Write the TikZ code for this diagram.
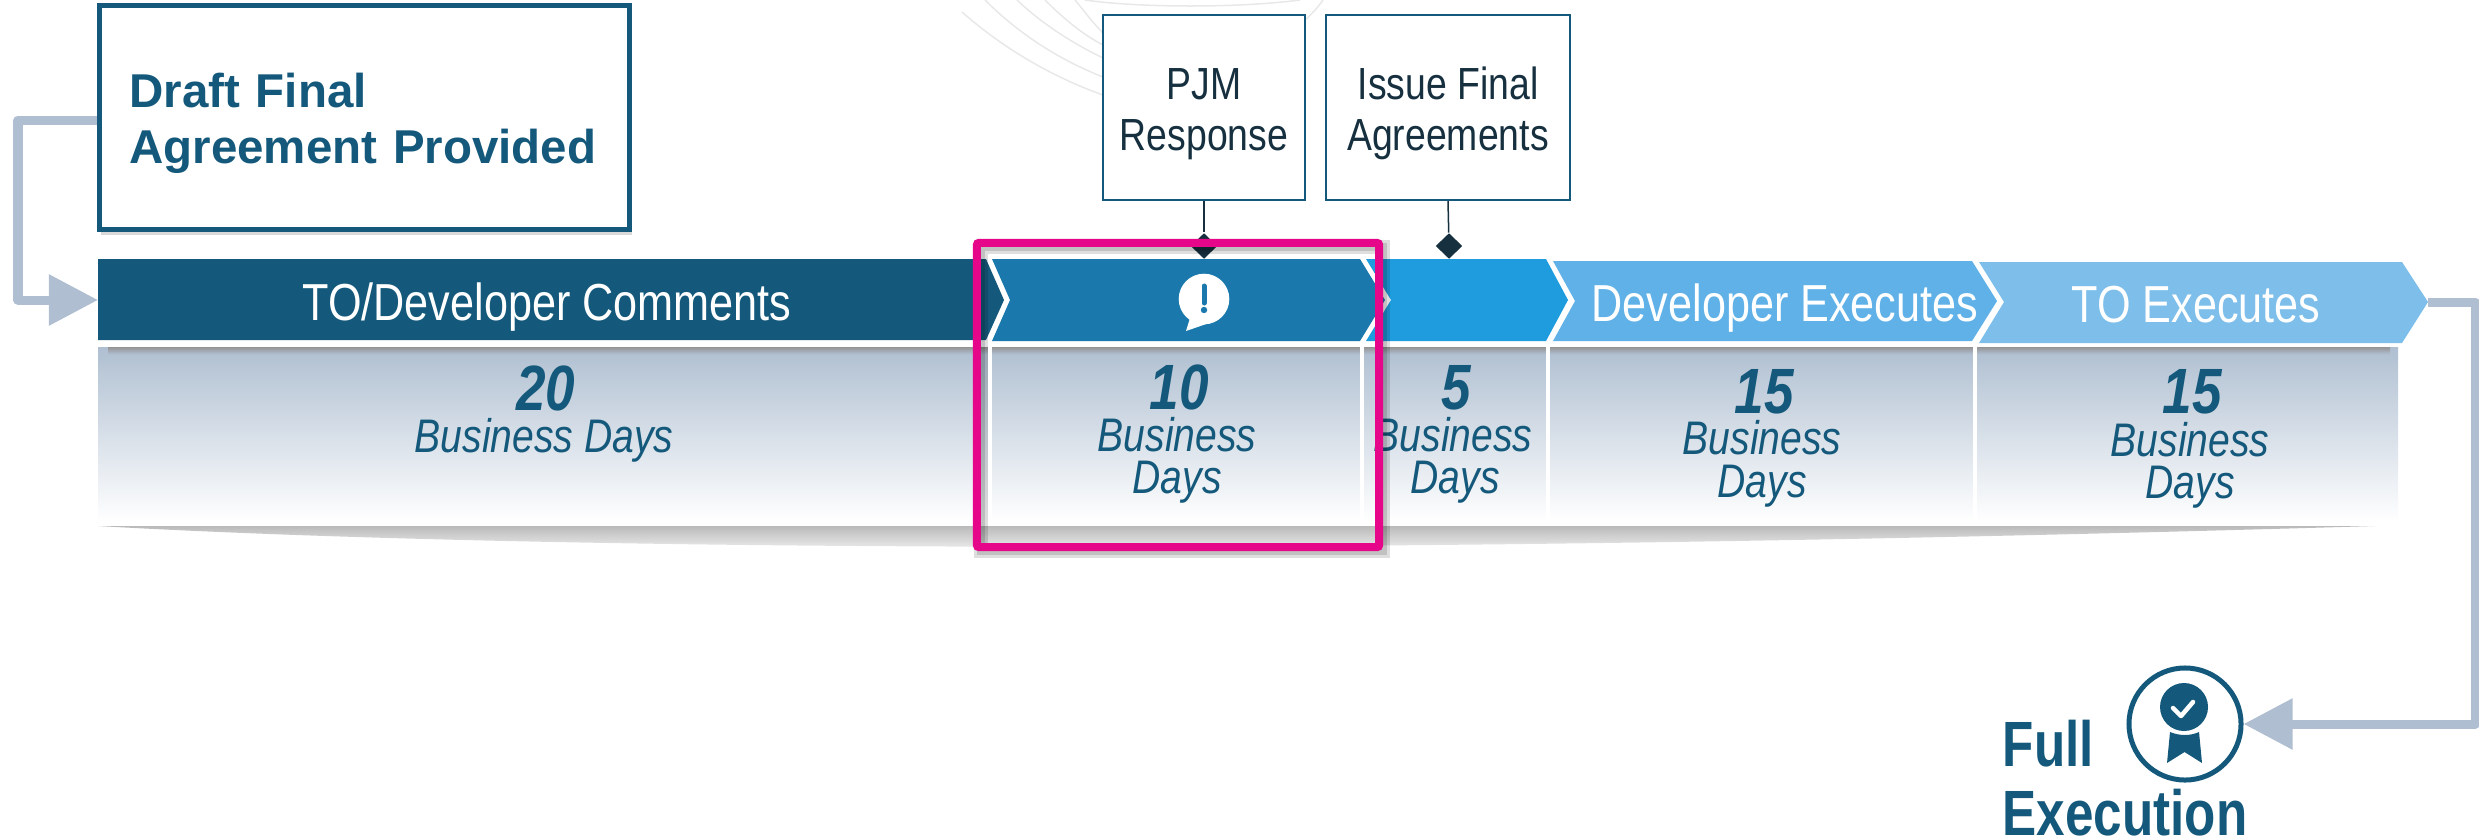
\documentclass[tikz,border=0pt]{standalone}
\usepackage{fontspec}
\setmainfont{Liberation Sans}
\newfontfamily\narrowfont{Liberation Sans}[FakeStretch=0.83]
\newfontfamily\tightbold{Liberation Sans}[FakeStretch=0.8]
\usetikzlibrary{arrows.meta,shadows,shapes.geometric}
\definecolor{darkteal}{HTML}{14597B}
\definecolor{midblue}{HTML}{1A78AC}
\definecolor{brightblue}{HTML}{1E9CDD}
\definecolor{skyblue}{HTML}{5FB1E8}
\definecolor{paleblue}{HTML}{7DBEEA}
\definecolor{flowgrey}{HTML}{AFBFD1}
\definecolor{inkdark}{HTML}{16303F}
\definecolor{hotpink}{HTML}{E6068A}
\tikzset{
  flow/.style={draw=flowgrey,line width=.09cm,line join=round,-{Triangle[length=.49cm,width=.49cm]}},
  draftbox/.style={draw=darkteal,fill=white,line width=.05cm,minimum width=5.3cm,minimum height=2.23cm,inner sep=.3cm,text width=4.7cm,align=left,text=darkteal,font=\fontsize{13.5}{16.2}\selectfont\bfseries,drop shadow={shadow xshift=.02cm,shadow yshift=-.06cm,opacity=.3}},
  taskbox/.style={draw=darkteal,fill=white,line width=.02cm,minimum height=1.85cm,inner sep=0pt,align=center,text=inkdark,font=\fontsize{12.8}{14.5}\selectfont\narrowfont},
  taskmark/.style={diamond,fill=inkdark,minimum width=.27cm,minimum height=.26cm,inner sep=0pt},
  barlabel/.style={anchor=base,text=white,inner sep=0pt,font=\fontsize{14.8}{17}\selectfont\narrowfont},
  daycount/.style={anchor=base,text=darkteal,inner sep=0pt,font=\fontsize{18.2}{20}\selectfont\narrowfont\bfseries\itshape},
  dayunit/.style={anchor=base,text=darkteal,inner sep=0pt,font=\fontsize{13.4}{15}\selectfont\narrowfont\itshape},
  pinkframe/.style={draw=hotpink,line width=.08cm,minimum width=4.02cm,minimum height=3.04cm,inner sep=0pt,rounded corners=.02cm},
  frameshade/.style={draw=black,opacity=.13,minimum width=4.02cm,minimum height=3.04cm,inner sep=0pt},
  paneledge/.style={draw=white,line width=.04cm},
  bgarc/.style={draw=black!9,line width=.015cm}
}
\begin{document}
\begin{tikzpicture}[x=.01cm,y=-.01cm]
  \useasboundingbox (0,0) rectangle (2479,839);
  \draw[bgarc] (962,12) .. controls (1005,50) and (1055,78) .. (1103,95);
  \draw[bgarc] (985,0) .. controls (1020,35) and (1060,60) .. (1103,77);
  \draw[bgarc] (1017,0) .. controls (1040,22) and (1070,42) .. (1103,58);
  \draw[bgarc] (1045,0) .. controls (1060,15) and (1080,33) .. (1103,45);
  \draw[bgarc] (1075,0) .. controls (1085,12) and (1092,22) .. (1103,33);
  \draw[bgarc] (1085,0) .. controls (1140,8) and (1240,8) .. (1300,0);
  \draw[bgarc] (1305,20) .. controls (1312,14) and (1318,7) .. (1323,0);
  \shade[top color=black!27,bottom color=white] (98,526) .. controls (500,549) and (1300,558) .. (2375,526) -- cycle;
  \shade[top color=flowgrey,bottom color=white] (98,347) rectangle (2398,522);
  \shade[top color=black!42,bottom color=flowgrey] (108,347) rectangle (2390,354);
  \draw[paneledge] (990,345) -- (990,522);
  \draw[paneledge] (1362,345) -- (1362,522);
  \draw[paneledge] (1548,345) -- (1548,522);
  \draw[paneledge] (1975,345) -- (1975,522);
  \fill[darkteal] (98,259) -- (986,259) -- (1004,300) -- (986,340) -- (98,340) -- cycle;
  \fill[midblue] (992,259) -- (1360,259) -- (1385,300) -- (1360,341) -- (992,341) -- (1010,300) -- cycle;
  \fill[brightblue] (1366,259) -- (1546,259) -- (1568,300) -- (1546,341) -- (1366,341) -- (1391,300) -- cycle;
  \fill[skyblue] (1553,261) -- (1972,261) -- (1997,301) -- (1972,341) -- (1553,341) -- (1575,301) -- cycle;
  \fill[paleblue] (1979,262) -- (2402,262) -- (2428,302) -- (2402,343) -- (1979,343) -- (2004,302) -- cycle;
  \path (547,320) node[barlabel] (comments) {TO/Developer Comments}
        (1785,321) node[barlabel] (devexec) {Developer Executes}
        (2196,322) node[barlabel] (toexec) {TO Executes};
  \fill[white] (1204,299) circle [radius=25.3];
  \fill[white] (1190,318) -- (1186,331) -- (1212,322) -- cycle;
  \draw[midblue,line width=.05cm,line cap=round] (1204,286) -- (1204,303);
  \fill[midblue] (1204,310) circle [radius=3.2];
  \path (546,410) node[daycount] (days1) {20}
        (544,452) node[dayunit] (unit1) {Business Days}
        (1179,409) node[daycount] (days2) {10}
        (1177,451) node[dayunit] (unit2) {Business}
        (1177,493) node[dayunit] (unit2b) {Days}
        (1456,409) node[daycount] (days3) {5}
        (1453,451) node[dayunit] (unit3) {Business}
        (1455,493) node[dayunit] (unit3b) {Days}
        (1764,413) node[daycount] (days4) {15}
        (1762,454) node[dayunit] (unit4) {Business}
        (1762,497) node[dayunit] (unit4b) {Days}
        (2192,413) node[daycount] (days5) {15}
        (2190,456) node[dayunit] (unit5) {Business}
        (2190,498) node[dayunit] (unit5b) {Days};
  \path (364.5,117.5) node[draftbox] (draft) {\rule{0pt}{.46cm}Draft Final\\Agreement Provided}
        (1204,107.5) node[taskbox,minimum width=2.02cm] (pjm) {\rule{0pt}{.44cm}PJM\\Response}
        (1448,107.5) node[taskbox,minimum width=2.44cm] (issue) {\rule{0pt}{.44cm}Issue Final\\Agreements}
        (1204,246) node[taskmark] (pjmmark) {}
        (1449,246) node[taskmark] (issuemark) {};
  \draw[inkdark,line width=.015cm] (pjm.south) -- (pjmmark);
  \draw[inkdark,line width=.015cm] (issue.south) -- (issuemark);
  \path (18,120) coordinate (elbowa)
        (18,300) coordinate (elbowb)
        (98,300) coordinate (barin)
        (2428,302) coordinate (barout)
        (2475,302) coordinate (elbowc)
        (2475,724) coordinate (elbowd);
  \path (2185,724) node[circle,draw=darkteal,line width=.05cm,minimum size=1.12cm,inner sep=0pt] (award) {};
  \draw[flow] (draft.west |- elbowa) -- (elbowa) -- (elbowb) -- (barin);
  \draw[flow] (barout) -- (elbowc) -- (elbowd) -- (award.east);
  \fill[darkteal] (2184,707) circle [radius=24];
  \draw[white,line width=.045cm,line cap=round,line join=round] (2173,708) -- (2181,716) -- (2193,702);
  \fill[darkteal] (2170,732) .. controls (2180,736) and (2190,736) .. (2199,732) -- (2202,763) -- (2184.5,752) -- (2167,763) -- cycle;
  \path (2002,837) node[anchor=south west,inner sep=0pt,align=left,text=darkteal,font=\fontsize{18.2}{19.6}\selectfont\tightbold\bfseries] (fullexec) {Full\\Execution};
  \path (1182,399) node[frameshade,line width=.14cm] (pinkshadea) {}
        (1182,399) node[frameshade,line width=.08cm] (pinkshadeb) {}
        (1178,395) node[pinkframe] (pjmframe) {};
\end{tikzpicture}
\end{document}
